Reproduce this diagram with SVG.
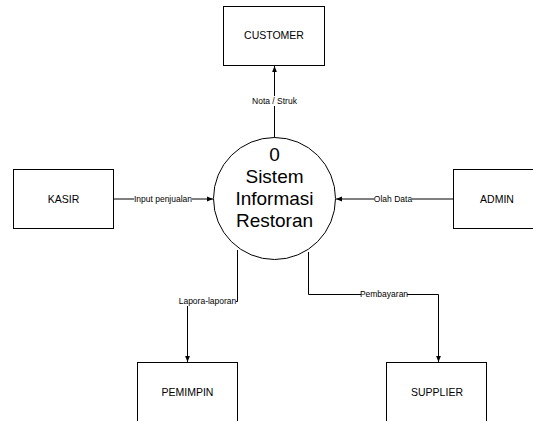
<svg xmlns="http://www.w3.org/2000/svg" width="533" height="421" viewBox="0 0 533 421">
<defs>
<marker id="ah" viewBox="0 0 10 10" refX="10" refY="5" markerWidth="6" markerHeight="6" markerUnits="userSpaceOnUse" orient="auto">
<path d="M0,1 L10,5 L0,9 z" fill="#000"/>
</marker>
<style>
.box{fill:#fff;stroke:#000;stroke-width:1}
.bt{font-family:"Liberation Sans",Arial,sans-serif;font-size:10.5px;fill:#000;text-anchor:middle}
.ct{font-family:"Liberation Sans",Arial,sans-serif;font-size:19px;fill:#000;text-anchor:middle}
.ln{fill:none;stroke:#000;stroke-width:1}
.lb{font-family:"Liberation Sans",Arial,sans-serif;font-size:8.5px;fill:#000;text-anchor:middle}
.lbg{fill:#fff}
</style>
</defs>
<rect width="533" height="421" fill="#fff"/>
<g id="connectors">
<polyline class="ln" points="274.5,138 274.5,66" marker-end="url(#ah)"/>
<polyline class="ln" points="113,199 213,199" marker-end="url(#ah)"/>
<polyline class="ln" points="453,199 336,199" marker-end="url(#ah)"/>
<polyline class="ln" points="237.5,250 237.5,301.5 187.5,301.5 187.5,362" marker-end="url(#ah)"/>
<polyline class="ln" points="308.5,252 308.5,294.5 438.5,294.5 438.5,362" marker-end="url(#ah)"/>
<rect class="lbg" x="251" y="96" width="47" height="10"/>
<text class="lb" x="274.5" y="104">Nota / Struk</text>
<rect class="lbg" x="134" y="194" width="58" height="10"/>
<text class="lb" x="163" y="202">Input penjualan</text>
<rect class="lbg" x="374" y="194" width="38" height="10"/>
<text class="lb" x="393" y="202">Olah Data</text>
<rect class="lbg" x="179" y="296" width="57" height="10"/>
<text class="lb" x="207.5" y="304">Lapora-laporan</text>
<rect class="lbg" x="361" y="289" width="46" height="10"/>
<text class="lb" x="384" y="297">Pembayaran</text>
</g>
<g id="customer">
<rect class="box" x="223.5" y="6.5" width="101" height="59"/>
<text class="bt" x="274" y="39">CUSTOMER</text>
</g>
<g id="kasir">
<rect class="box" x="13.5" y="169.5" width="100" height="59"/>
<text class="bt" x="63.5" y="203">KASIR</text>
</g>
<g id="admin">
<rect class="box" x="453.5" y="169.5" width="100" height="59"/>
<text class="bt" x="497" y="203">ADMIN</text>
</g>
<g id="pemimpin">
<rect class="box" x="137.5" y="362.5" width="100" height="60"/>
<text class="bt" x="187.5" y="396">PEMIMPIN</text>
</g>
<g id="supplier">
<rect class="box" x="386.5" y="362.5" width="100" height="60"/>
<text class="bt" x="437" y="396">SUPPLIER</text>
</g>
<g id="process">
<circle cx="274.5" cy="198.5" r="61" fill="#fff" stroke="#000" stroke-width="1"/>
<text class="ct" x="274.5" y="161">0</text>
<text class="ct" x="274.5" y="183">Sistem</text>
<text class="ct" x="274.5" y="205">Informasi</text>
<text class="ct" x="274.5" y="227">Restoran</text>
</g>
</svg>
